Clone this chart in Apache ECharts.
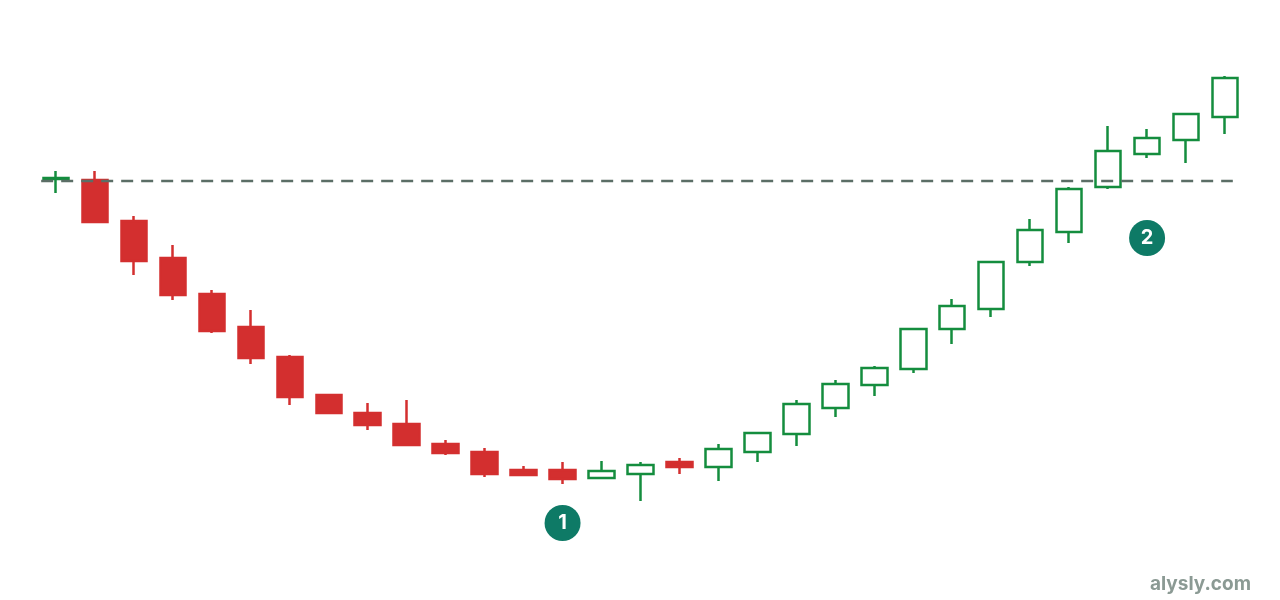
<!DOCTYPE html>
<html>
<head>
<meta charset="utf-8">
<script src="https://cdn.jsdelivr.net/npm/echarts@6/dist/echarts.min.js"></script>
<style>html,body{margin:0;padding:0;background:#fff}#c{width:1280px;height:600px}</style>
</head>
<body>
<div id="c"></div>
<script>
const categories = Array.from({length: 31}, (_, i) => 'D' + (i + 1));
const openVals  = [421,420,379,342,306,273,243,205,187,176,156,148,130,130,122,126,138,133,148,166,192,215,231,271,291,338,368,413,446,460,483];
const closeVals = [422,378,339,305,269,242,203,187,175,155,147,126,125,121,129,135,133,151,167,196,216,232,271,294,338,370,411,449,462,486,522];
const lowVals   = [407,378,325,300,267,236,195,187,170,154,145,123,125,116,122,99,126,119,138,154,183,204,227,256,283,334,357,411,442,437,466];
const highVals  = [429,429,384,355,310,290,245,205,197,200,160,152,134,138,139,138,142,156,167,200,220,234,271,301,339,381,413,474,471,486,524];
const refLevel = 419;
const refSpan = [-0.38, 30.2];
const markers = [
  {name: '1', idx: 13, value: 77},
  {name: '2', idx: 28, value: 362}
];

const data = categories.map((c, i) => [openVals[i], closeVals[i], lowVals[i], highVals[i]]);

const chart = echarts.init(document.getElementById('c'));
chart.setOption({
  animation: false,
  backgroundColor: '#ffffff',
  grid: {left: 36.5, right: 35.5, top: 0, bottom: 0},
  xAxis: [
    {type: 'category', data: categories, show: false, boundaryGap: true},
    {type: 'value', min: -0.5, max: categories.length - 0.5, show: false, splitLine: {show: false}}
  ],
  yAxis: {type: 'value', min: 0, max: 600, show: false, splitLine: {show: false}},
  graphic: [{
    type: 'text', right: 29, bottom: 6,
    style: {text: 'alysly.com', fill: '#8b9a94', font: 'bold 19px Inter, Roboto, sans-serif'}
  }],
  series: [{
    type: 'candlestick',
    data: data,
    barWidth: 26,
    z: 2,
    itemStyle: {
      color: '#ffffff',
      color0: '#d32f2f',
      borderColor: '#148d3e',
      borderColor0: '#d32f2f',
      borderWidth: 2.5
    },
    markPoint: {
      symbol: 'circle',
      symbolSize: 36,
      itemStyle: {color: '#0e7a66'},
      label: {show: true, color: '#fff', fontSize: 20, fontWeight: 'bold', fontFamily: 'Inter, Roboto, sans-serif', formatter: p => p.name},
      data: markers.map(m => ({name: m.name, coord: [m.idx, m.value]}))
    }
  }, {
    type: 'line',
    xAxisIndex: 1,
    silent: true,
    symbol: 'none',
    z: 3,
    lineStyle: {color: '#5b6e66', type: [12, 8], width: 2.5},
    data: refSpan.map(x => [x, refLevel])
  }]
});
</script>
</body>
</html>
